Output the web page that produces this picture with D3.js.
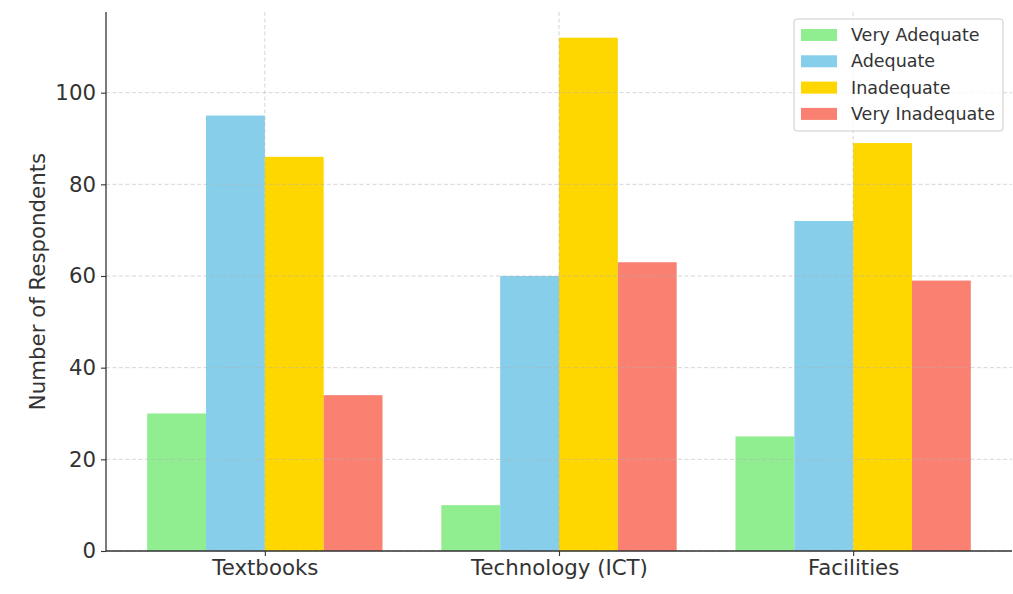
<!DOCTYPE html>
<html><head><meta charset="utf-8">
<script src="https://cdn.jsdelivr.net/npm/d3@7"></script>
<style>body{margin:0;background:#fff}svg{display:block}text{font-family:"DejaVu Sans",sans-serif}</style>
</head><body><svg id="c" width="1013" height="594"></svg>
<script>
const categories = ["Textbooks", "Technology (ICT)", "Facilities"];
const seriesNames = ["Very Adequate", "Adequate", "Inadequate", "Very Inadequate"];
const veryAdequate = [30, 10, 25];
const adequate = [95, 60, 72];
const inadequate = [86, 112, 89];
const veryInadequate = [34, 63, 59];
const colors = ["#90EE90", "#87CEEB", "#FFD700", "#FA8072"];
const yTicks = [0, 20, 40, 60, 80, 100];
const series = [veryAdequate, adequate, inadequate, veryInadequate];

const svg = d3.select("#c");
const L = 106, R = 1012, T = 12, B = 551;
const x = d3.scaleLinear().domain([-0.54, 2.54]).range([L, R]);
const y = d3.scaleLinear().domain([0, 117.6]).range([B, T]);
const bw = 0.2;

// bars
series.forEach((vals, si) => {
  svg.append("g").selectAll("rect").data(vals).join("rect")
    .attr("x", (d, i) => x(i + (si - 1.5) * bw - bw / 2))
    .attr("width", x(bw) - x(0))
    .attr("y", d => y(d))
    .attr("height", d => y(0) - y(d))
    .attr("fill", colors[si]);
});

// grid
const grid = svg.append("g");
grid.selectAll(".hg").data(yTicks).join("line")
  .attr("x1", L).attr("x2", R).attr("y1", d => y(d)).attr("y2", d => y(d))
  .attr("stroke", "#b0b0b0").attr("stroke-opacity", 0.6).attr("stroke-dasharray", "4,2.5").attr("stroke-width", 0.9);
grid.selectAll(".vg").data(categories).join("line")
  .attr("x1", (d, i) => x(i)).attr("x2", (d, i) => x(i)).attr("y1", T).attr("y2", B)
  .attr("stroke", "#b0b0b0").attr("stroke-opacity", 0.6).attr("stroke-dasharray", "4,2.5").attr("stroke-width", 0.9);

// axes
const yAxis = svg.append("g").attr("transform", `translate(${L},0)`)
  .call(d3.axisLeft(y).tickValues(yTicks).tickSize(5).tickPadding(5));
yAxis.select(".domain").attr("d", `M0,${T}V${B}`);
const xAxis = svg.append("g").attr("transform", `translate(0,${B})`)
  .call(d3.axisBottom(x).tickValues([0, 1, 2]).tickFormat(i => categories[i]).tickSize(5).tickPadding(4));
xAxis.select(".domain").attr("d", `M${L},0H${R}`);
[yAxis, xAxis].forEach(a => {
  a.attr("font-size", 21).attr("font-family", "DejaVu Sans");
  a.select(".domain").attr("stroke", "#333").attr("stroke-width", 1.3);
  a.selectAll(".tick line").attr("stroke", "#333").attr("stroke-width", 1.1);
  a.selectAll(".tick text").attr("fill", "#333").style("font-size", "21.3px");
});

svg.append("text").attr("transform", `translate(38,${(T + B) / 2}) rotate(-90)`)
  .attr("text-anchor", "middle").attr("dy", "0.35em").style("font-size", "21.3px").attr("fill", "#333").text("Number of Respondents");

// legend
const lg = svg.append("g").attr("transform", "translate(794,19)");
lg.append("rect").attr("width", 209).attr("height", 112).attr("rx", 3)
  .attr("fill", "#fff").attr("fill-opacity", 0.8).attr("stroke", "#ccc").attr("stroke-width", 1);
seriesNames.forEach((n, i) => {
  const row = lg.append("g").attr("transform", `translate(0,${16 + i * 26.3})`);
  row.append("rect").attr("x", 7).attr("y", -6).attr("width", 36).attr("height", 12).attr("fill", colors[i]);
  row.append("text").attr("x", 57).attr("y", 0).attr("dy", "0.35em").style("font-size", "17.5px").attr("fill", "#333").text(n);
});
</script></body></html>
